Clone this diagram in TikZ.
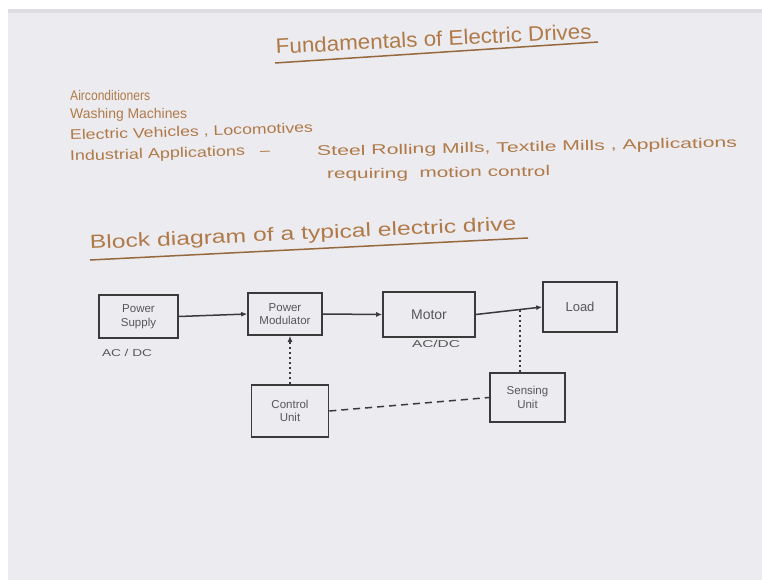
\documentclass[tikz,border=0pt]{standalone}
\usepackage{fontspec}
\setmainfont{Liberation Sans}
\usetikzlibrary{arrows.meta,calc}
\definecolor{ink}{HTML}{B07A48}
\definecolor{pen}{HTML}{3A3A3A}
\definecolor{paper}{HTML}{ECEBF0}
\definecolor{edge}{HTML}{DEDEE2}
\newcommand{\hw}[2]{\resizebox{#1}{\height}{#2}}
\begin{document}
\begin{tikzpicture}[x=1pt,y=-1pt,
  hand/.style={anchor=base west, inner sep=0pt, text=ink},
  body/.style={hand, font=\fontsize{14}{16}\selectfont},
  uline/.style={draw=ink!85!black, line width=1.5pt},
  blockbox/.style 2 args={draw=pen, line width=1.6pt, minimum width=#1, minimum height=#2,
     inner sep=1pt, align=center, text=pen!85, font=\fontsize{11.5}{13.5}\selectfont},
  note/.style={text=pen!85, inner sep=0pt, font=\fontsize{10}{12}\selectfont},
  flow/.style={draw=pen, line width=1.5pt, -{Latex[length=6pt,width=5pt]}},
  dotline/.style={draw=pen, line width=2pt, dash pattern=on 2pt off 3pt},
  dashline/.style={draw=pen, line width=1.5pt, dash pattern=on 7pt off 5pt}
]
\useasboundingbox (0,0) rectangle (762,580);
\fill[white] (0,0) rectangle (762,580);
\fill[paper] (8,9) rectangle (762,580);
\fill[edge] (8,9) rectangle (762,13);

% title
\node[hand, rotate=2.8, font=\fontsize{21}{24}\selectfont] (title) at (276,54)
  {\hw{316pt}{Fundamentals of Electric Drives}};
\draw[uline] (275,63) -- (598,42);

% applications list
\node[body] (l1) at (70,101) {\hw{80pt}{Airconditioners}};
\node[body] (l2) at (70,119) {\hw{117pt}{Washing Machines}};
\node[body, rotate=1.8] (l3) at (70,140) {\hw{243pt}{Electric Vehicles , Locomotives}};
\node[body, rotate=1.8] (l4) at (70,161) {\hw{200pt}{Industrial Applications \ \ --}};
\node[body, rotate=1.2] (l5) at (317,156) {\hw{420pt}{Steel Rolling Mills, Textile Mills , Applications}};
\node[body, rotate=0.8] (l6) at (327,179) {\hw{223pt}{requiring \ motion control}};

% block diagram heading
\node[hand, rotate=2.5, font=\fontsize{19}{22}\selectfont] (head) at (90,249)
  {\hw{427pt}{Block diagram of a typical electric drive}};
\draw[uline] (90,260) -- (528,238);

% blocks
\node[blockbox={79pt}{43pt}] (ps) at (138.5,316.5) {Power\\Supply};
\node[blockbox={74pt}{42pt}] (pm) at (285,314) {Power\\Modulator};
\node[blockbox={92pt}{45pt}, font=\fontsize{14}{16}\selectfont] (motor) at (429,314.5) {Motor};
\node[blockbox={74pt}{50pt}, font=\fontsize{13}{15}\selectfont] (load) at (580,307) {Load};
\node[blockbox={77pt}{52pt}] (cu) at (290,411) {Control\\Unit};
\node[blockbox={75pt}{49pt}] (su) at (527.5,397.5) {Sensing\\Unit};

\node[note] (acdc1) at (127,353) {\hw{50pt}{AC / DC}};
\node[note] (acdc2) at (436,344) {\hw{48pt}{AC/DC}};

% connectors
\draw[flow] (ps.east) -- (pm.west);
\draw[flow] (pm.east) -- (motor.west);
\draw[flow] (motor.east) -- (load.west);
\coordinate (j) at ($(motor.east)!0.66!(load.west)$);
\draw[dotline] (j) -- (j |- su.north);
\draw[dotline, -{Latex[length=6pt,width=5pt]}] (cu.north) -- (cu.north |- pm.south);
\draw[dashline] (cu.east) -- (su.west);
\end{tikzpicture}
\end{document}
